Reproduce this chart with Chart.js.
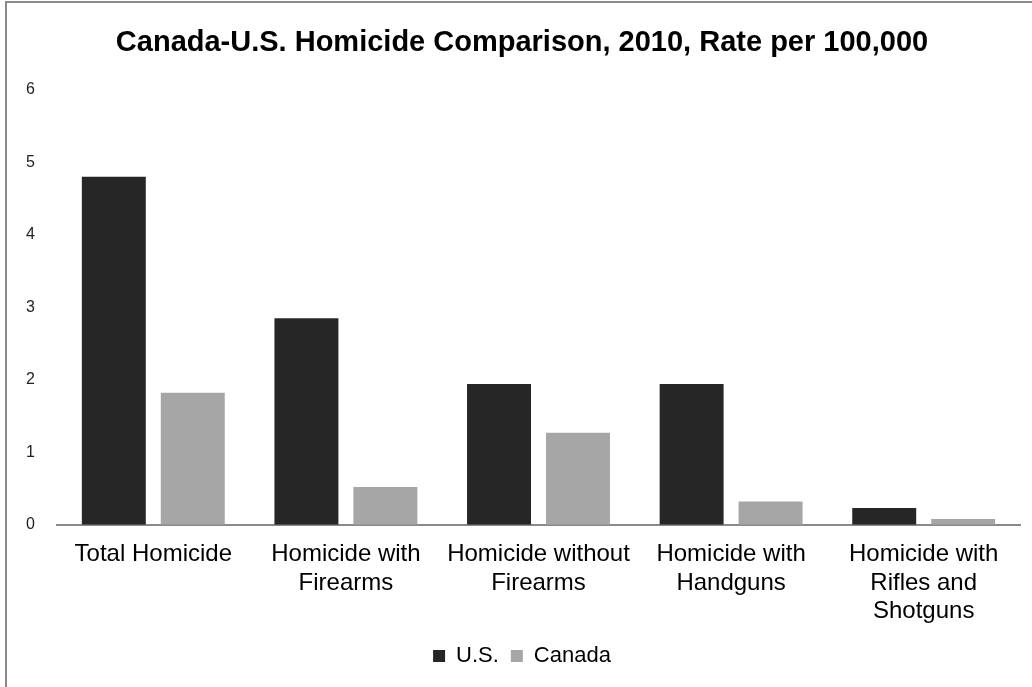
<!DOCTYPE html>
<html>
<head>
<meta charset="utf-8">
<title>Canada-U.S. Homicide Comparison</title>
<script src="https://cdn.jsdelivr.net/npm/chart.js@4.4.1/dist/chart.umd.min.js"></script>
<style>
  html, body { margin: 0; padding: 0; background: #fff; overflow: hidden; }
  .frame {
    position: absolute; left: 5px; top: 1px;
    width: 1100px; height: 720px;
    border: 2px solid #8a8a8a;
    background: #fff;
  }
  .chart-wrap { position: absolute; left: 0; top: 0; width: 1025px; height: 684px; }
</style>
</head>
<body>
<div class="frame">
  <div class="chart-wrap"><canvas id="chart"></canvas></div>
</div>
<script>
// homicide rates per 100,000, 2010
const categorias = [
  'Total Homicide',
  ['Homicide with', 'Firearms'],
  ['Homicide without', 'Firearms'],
  ['Homicide with', 'Handguns'],
  ['Homicide with', 'Rifles and', 'Shotguns']
];
const tasaUS = [4.8, 2.85, 1.94, 1.94, 0.23];
const tasaCanada = [1.82, 0.52, 1.27, 0.32, 0.08];
const ejeY = { min: 0, max: 6, paso: 1 };

const FONT = "'Liberation Sans', Arial, sans-serif";

new Chart(document.getElementById('chart'), {
  type: 'bar',
  data: {
    labels: categorias,
    datasets: [
      { label: 'U.S.', data: tasaUS, backgroundColor: '#262626', categoryPercentage: 0.82, barPercentage: 0.81 },
      { label: 'Canada', data: tasaCanada, backgroundColor: '#a6a6a6', categoryPercentage: 0.82, barPercentage: 0.81 }
    ]
  },
  options: {
    responsive: true,
    maintainAspectRatio: false,
    animation: false,
    layout: { padding: { left: 17, right: 12, top: 23, bottom: 10 } },
    plugins: {
      title: {
        display: true,
        text: 'Canada-U.S. Homicide Comparison, 2010, Rate per 100,000',
        color: '#000',
        font: { family: FONT, size: 29, weight: 'bold' },
        padding: { top: 0, bottom: 29 }
      },
      legend: {
        position: 'bottom',
        labels: {
          color: '#000',
          font: { family: FONT, size: 22 },
          boxWidth: 12,
          boxHeight: 12,
          padding: 12
        }
      },
      tooltip: { enabled: false }
    },
    scales: {
      x: {
        grid: { display: false },
        border: { display: true, color: '#8a8a8a', width: 2 },
        ticks: {
          color: '#000',
          font: { family: FONT, size: 24, lineHeight: 1.17 },
          maxRotation: 0,
          autoSkip: false,
          padding: 8
        }
      },
      y: {
        min: ejeY.min,
        max: ejeY.max,
        grid: { display: false, drawTicks: false },
        border: { display: false },
        // fixed width so the plot starts where the axis line should
        afterFit: s => { s.width = 33; },
        ticks: {
          stepSize: ejeY.paso,
          color: '#222',
          font: { family: FONT, size: 16 },
          padding: 22
        }
      }
    }
  }
});
</script>
</body>
</html>
